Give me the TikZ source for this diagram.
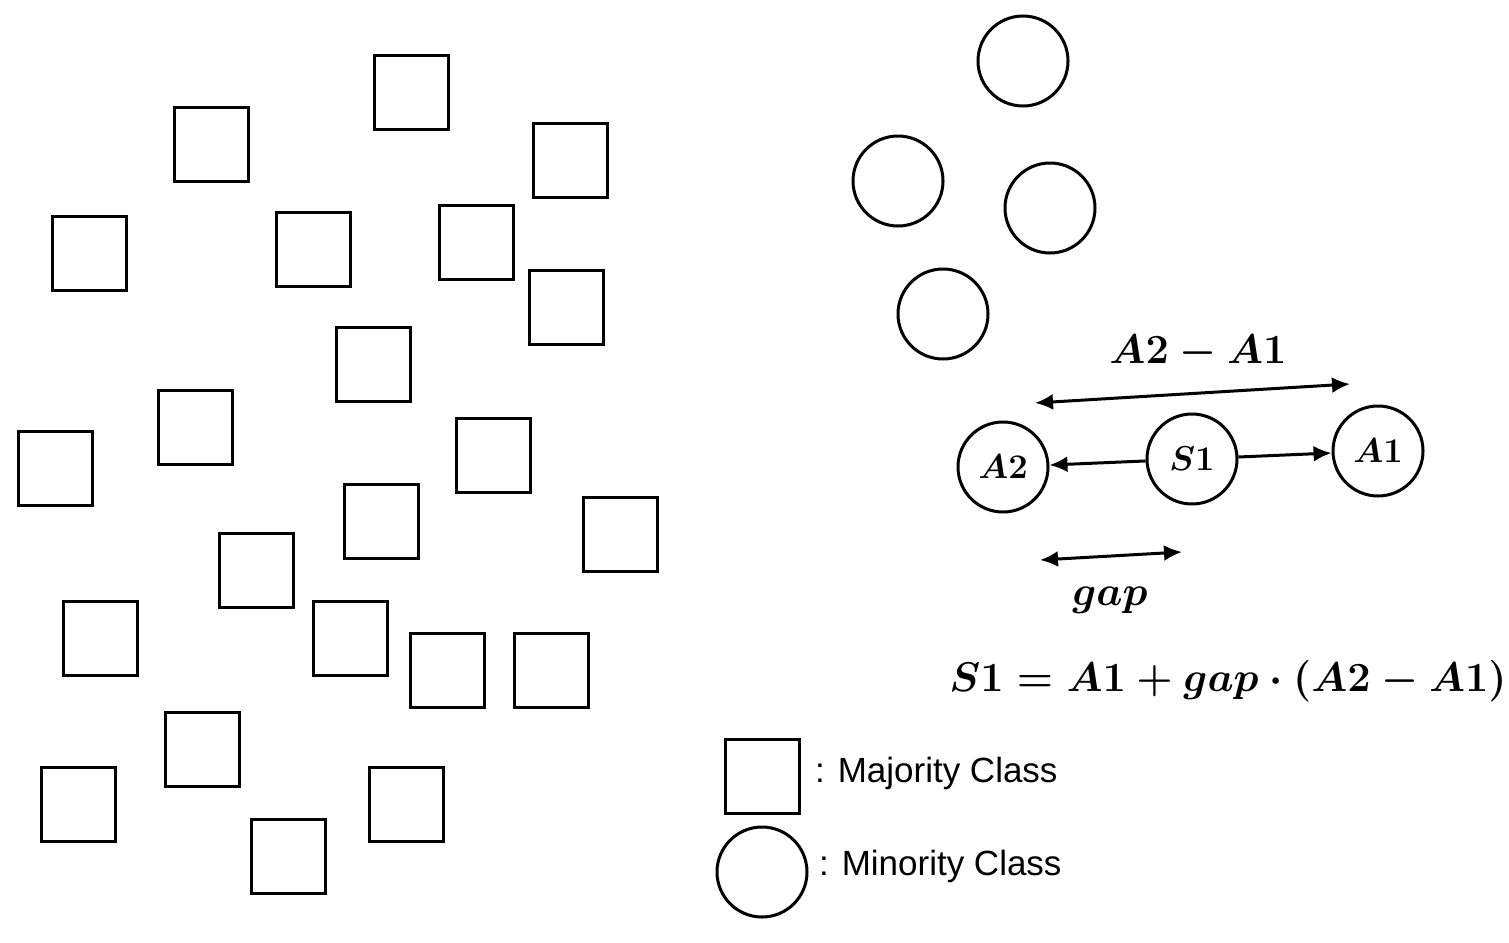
\documentclass[tikz,border=0pt]{standalone}
\usepackage{fontspec}
\newfontfamily\lsans{Liberation Sans}
\usetikzlibrary{arrows.meta}
\begin{document}
\begin{tikzpicture}[x=0.5pt,y=-0.5pt,
  sq/.style={draw,line width=1.5pt,minimum size=37pt,inner sep=0pt},
  ci/.style={draw,circle,line width=1.5pt,minimum size=45pt,inner sep=0pt,font=\fontsize{19}{22}\selectfont\boldmath},
  ar/.style={line width=1.5pt,{Latex[length=9pt,width=8pt]}-{Latex[length=9pt,width=8pt]}},
  ra/.style={line width=1.5pt,-{Latex[length=9pt,width=8pt]}},
  mt/.style={font=\fontsize{21}{25}\selectfont\boldmath},
  lg/.style={font=\lsans\fontsize{17.5}{20}\selectfont,anchor=west}]
\useasboundingbox (0,0) rectangle (1509,942);
\foreach \x/\y [count=\i] in {411/92,211/144,570/160,89/253,313/249,476/242,566/307,373/364,195/427,55/468,493/455,381/521,620/534,256/570,100/638,350/638,447/670,551/670,202/749,78/804,406/804,288/856}
  \node[sq] (s\i) at (\x,\y) {};
\foreach \x/\y [count=\i] in {1023/61,898/181,1050/208,943/314}
  \node[ci] (c\i) at (\x,\y) {};
\node[ci] (a2) at (1003,467) {$A2$};
\node[ci] (s1) at (1192,459) {$S1$};
\node[ci] (a1) at (1378,451) {$A1$};
\draw[ra] (s1) -- (a2);
\draw[ra] (s1) -- (a1);
\coordinate (p1) at (1035,403); \coordinate (p2) at (1350,384);
\draw[ar] (p1) -- (p2);
\coordinate (g1) at (1040,560); \coordinate (g2) at (1182,552);
\draw[ar] (g1) -- (g2);
\node[mt] (t1) at (1198,352) {$A2-A1$};
\node[mt] (t2) at (1110,600) {$gap$};
\node[mt] (t3) at (1228,681) {$S1=A1+gap\cdot(A2-A1)$};
\node[sq] (ls) at (762,776) {};
\node[ci] (lc) at (762,872) {};
\node[lg] (l1) at (808,773) {: Majority Class};
\node[lg] (l2) at (812,866) {: Minority Class};
\end{tikzpicture}
\end{document}
